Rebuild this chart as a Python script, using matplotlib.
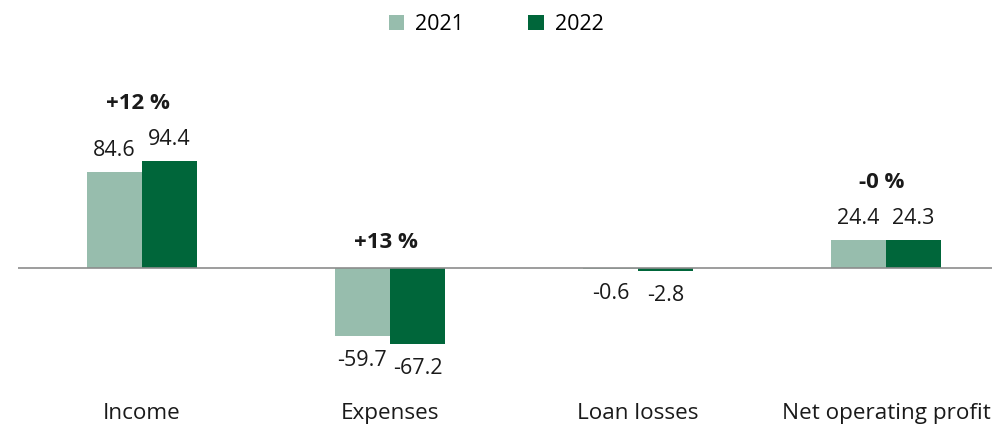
import matplotlib.pyplot as plt
import numpy as np

categories = ["Income", "Expenses", "Loan losses", "Net operating profit"]
years = ["2021", "2022"]
values_2021 = [84.6, -59.7, -0.6, 24.4]
values_2022 = [94.4, -67.2, -2.8, 24.3]
changes = ["+12 %", "+13 %", None, "-0 %"]

light = "#97bdad"
dark = "#00663a"

plt.rcParams["font.family"] = ["Open Sans", "DejaVu Sans"]

fig = plt.figure(figsize=(9.92, 4.28), dpi=100)
# axes runs a little past the right edge, so the last label gets cut
ax = fig.add_axes([18 / 992, 0.1617, 1.0, 0.504])

x = np.arange(len(categories))
w = 0.222
ax.bar(x - w / 2, values_2021, w, color=light, label=years[0])
ax.bar(x + w / 2, values_2022, w, color=dark, label=years[1])
ax.axhline(0, color="#8c8c8c", lw=1.2)

ax.set_xlim(-0.5, len(categories) - 0.5)
ax.set_ylim(-80, 110)
ax.axis("off")

# value labels above/below each bar
for xs, vals in ((x - w / 2, values_2021), (x + w / 2, values_2022)):
    for xi, v in zip(xs, vals):
        if v >= 0:
            ax.annotate(f"{v:.1f}", (xi, v), xytext=(0, 8), textcoords="offset points",
                        ha="center", va="bottom", fontsize=15.5, color="#1a1a1a")
        else:
            ax.annotate(f"{v:.1f}", (xi, v), xytext=(0, -10), textcoords="offset points",
                        ha="center", va="top", fontsize=15.5, color="#1a1a1a")

# change labels
for xi, a, b, c in zip(x, values_2021, values_2022, changes):
    if c is None:
        continue
    top = max(a, b, 0)
    off = 34 if top > 0 else 11
    ax.annotate(c, (xi, top), xytext=(-3, off), textcoords="offset points",
                ha="center", va="bottom", fontsize=16, fontweight="bold", color="#1a1a1a")

# category names under the bars
for xi, name in zip(x, categories):
    ax.text(xi, -128, name, ha="center", va="center", fontsize=16.2,
            color="#1a1a1a", clip_on=False)

fig.legend(loc="upper center", bbox_to_anchor=(0.5, 1.012), ncol=2, frameon=False,
           fontsize=15.5, handlelength=0.72, handleheight=0.72, handletextpad=0.5,
           columnspacing=3.0)

fig.savefig("out.png", dpi=100)
